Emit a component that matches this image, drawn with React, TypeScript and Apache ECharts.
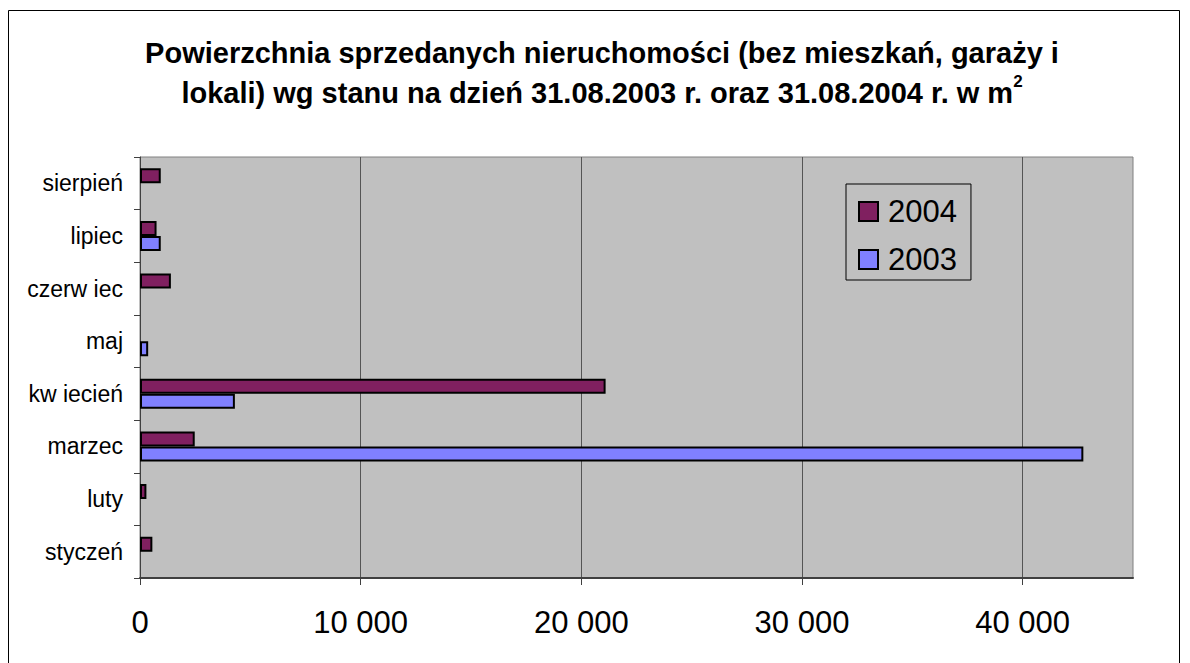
import React, { useEffect, useRef } from "react";
import * as echarts from "echarts";

const categories = ["styczeń", "luty", "marzec", "kw iecień", "maj", "czerw iec", "lipiec", "sierpień"];
const values2004 = [560, 290, 2480, 21100, null, 1400, 750, 940];
const values2003 = [null, null, 42750, 4300, 370, null, 940, null];
const xTicks = [0, 10000, 20000, 30000, 40000];
const titleLine1 = "Powierzchnia sprzedanych nieruchomości (bez mieszkań, garaży i";
const titleLine2 = "lokali) wg stanu na dzień 31.08.2003 r. oraz 31.08.2004 r. w m";

const FONT = "'Liberation Sans', Arial, sans-serif";

const fmt = (v: number) => String(v).replace(/\B(?=(\d{3})+(?!\d))/g, " ");

export default function App() {
  const ref = useRef<HTMLDivElement>(null);
  useEffect(() => {
    if (!ref.current) return;
    const chart = echarts.init(ref.current, null, { renderer: "svg" });
    chart.setOption({
      animation: false,
      backgroundColor: "#fff",
      title: {
        text: titleLine1 + "\n" + titleLine2 + "{sup|2}",
        left: 602,
        top: 33,
        padding: 0,
        textAlign: "center",
        textStyle: {
          fontFamily: FONT,
          fontSize: 29,
          fontWeight: "bold",
          color: "#000",
          lineHeight: 40,
          rich: {
            sup: {
              fontFamily: FONT,
              fontSize: 17,
              fontWeight: "bold",
              color: "#000",
              lineHeight: 36,
              verticalAlign: "top",
            },
          },
        },
      },
      legend: {
        left: 846,
        top: 184,
        orient: "vertical",
        data: ["2004", "2003"],
        itemWidth: 19,
        itemHeight: 19,
        itemGap: 17,
        padding: [12, 14, 5, 12],
        borderColor: "#000",
        borderWidth: 1,
        icon: "rect",
        textStyle: {
          fontFamily: FONT,
          fontSize: 31,
          color: "#000",
          lineHeight: 31,
          padding: [0, 0, 0, 5],
        },
      },
      grid: {
        left: 140,
        right: 57,
        top: 157,
        bottom: 85,
        show: true,
        backgroundColor: "#C0C0C0",
        borderColor: "#808080",
        borderWidth: 1,
      },
      xAxis: {
        type: "value",
        min: 0,
        max: 45000,
        interval: 10000,
        axisLine: { show: true, lineStyle: { color: "#404040", width: 2 } },
        axisTick: { show: true, length: 7, lineStyle: { color: "#404040" }, customValues: xTicks },
        splitLine: { show: true, lineStyle: { color: "#555555", width: 1 } },
        axisLabel: {
          fontFamily: FONT,
          fontSize: 31,
          color: "#000",
          margin: 29,
          customValues: xTicks,
          formatter: (v: number) => fmt(v),
        },
      },
      yAxis: {
        type: "category",
        data: categories,
        axisLine: { show: true, lineStyle: { color: "#404040", width: 1 } },
        axisTick: { show: true, length: 6, lineStyle: { color: "#404040" } },
        axisLabel: { fontFamily: FONT, fontSize: 23, color: "#000", margin: 17 },
        splitLine: { show: false },
      },
      series: [
        {
          name: "2004",
          type: "bar",
          data: values2004,
          barWidth: 15,
          barGap: "0%",
          itemStyle: { color: "#802060", borderColor: "#000", borderWidth: 2 },
        },
        {
          name: "2003",
          type: "bar",
          data: values2003,
          barWidth: 15,
          barGap: "0%",
          itemStyle: { color: "#8080FF", borderColor: "#000", borderWidth: 2 },
        },
      ],
      graphic: [
        {
          type: "rect",
          shape: { x: 8.5, y: 10.5, width: 1171, height: 700 },
          style: { fill: "none", stroke: "#000", lineWidth: 1 },
          silent: true,
        },
      ],
    });
    return () => chart.dispose();
  }, []);
  return (
    <div
      ref={ref}
      style={{ position: "fixed", left: 0, top: 0, width: 1190, height: 663 }}
    />
  );
}
